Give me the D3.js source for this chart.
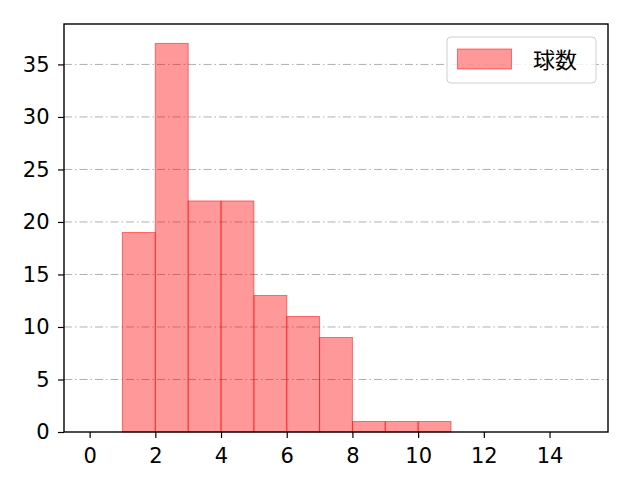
<!DOCTYPE html>
<html>
<head>
<meta charset="utf-8">
<script src="https://cdn.jsdelivr.net/npm/d3@7"></script>
<style>
  body { margin: 0; background: #fff; }
  svg text { font-family: "DejaVu Sans", sans-serif; }
</style>
</head>
<body>
<div id="chart"></div>
<script>
// histogram bins (start, end) and counts
const binStarts = [1, 2, 3, 4, 5, 6, 7, 8, 9, 10];
const binEnds = [2, 3, 4, 5, 6, 7, 8, 9, 10, 11];
const counts = [19, 37, 22, 22, 13, 11, 9, 1, 1, 1];
const xTicks = [0, 2, 4, 6, 8, 10, 12, 14];
const yTicks = [0, 5, 10, 15, 20, 25, 30, 35];
const seriesName = "球数";

const width = 640, height = 480;
const margin = { top: 24, right: 32, bottom: 48, left: 64 };

const x = d3.scaleLinear()
  .domain([-0.78, 15.78])
  .range([margin.left, width - margin.right]);

const y = d3.scaleLinear()
  .domain([0, 38.85])
  .range([height - margin.bottom, margin.top]);

const svg = d3.select("#chart").append("svg")
  .attr("width", width)
  .attr("height", height);

// grid
svg.append("g")
  .selectAll("line")
  .data(yTicks.filter(d => d > 0))
  .join("line")
  .attr("x1", margin.left)
  .attr("x2", width - margin.right)
  .attr("y1", d => y(d))
  .attr("y2", d => y(d))
  .attr("stroke", "#b0b0b0")
  .attr("stroke-width", 1)
  .attr("stroke-dasharray", "8,3,1.5,3");

const bins = counts.map((c, i) => ({ x0: binStarts[i], x1: binEnds[i], value: c }));

svg.append("g")
  .selectAll("rect")
  .data(bins)
  .join("rect")
  .attr("x", d => x(d.x0))
  .attr("width", d => x(d.x1) - x(d.x0))
  .attr("y", d => y(d.value))
  .attr("height", d => y(0) - y(d.value))
  .attr("fill", "rgba(255,0,0,0.4)")
  .attr("stroke", "rgba(255,0,0,0.5)")
  .attr("stroke-width", 1);

// axes
const xAxis = svg.append("g")
  .attr("transform", `translate(0,${height - margin.bottom})`)
  .call(d3.axisBottom(x).tickValues(xTicks).tickSize(6).tickPadding(10.5).tickSizeOuter(0));

const yAxis = svg.append("g")
  .attr("transform", `translate(${margin.left},0)`)
  .call(d3.axisLeft(y).tickValues(yTicks).tickSize(6).tickPadding(8.5).tickSizeOuter(0));

[xAxis, yAxis].forEach(g => {
  g.select(".domain").remove();
  g.selectAll(".tick line").attr("stroke", "#000").attr("stroke-width", 1.2);
  g.selectAll(".tick text").attr("font-size", 21).attr("fill", "#000")
    .style("font-family", "\"DejaVu Sans\", sans-serif");
});

// frame
svg.append("rect")
  .attr("x", margin.left)
  .attr("y", margin.top)
  .attr("width", width - margin.left - margin.right)
  .attr("height", height - margin.top - margin.bottom)
  .attr("fill", "none")
  .attr("stroke", "#000")
  .attr("stroke-width", 1.4);

// legend
const legend = svg.append("g")
  .attr("transform", "translate(447,37)");

legend.append("rect")
  .attr("width", 149)
  .attr("height", 46)
  .attr("rx", 4)
  .attr("fill", "rgba(255,255,255,0.8)")
  .attr("stroke", "#d0d0d0");

legend.append("rect")
  .attr("x", 10.5)
  .attr("y", 12)
  .attr("width", 54)
  .attr("height", 20)
  .attr("fill", "rgba(255,0,0,0.4)")
  .attr("stroke", "rgba(255,0,0,0.5)");

legend.append("text")
  .attr("x", 86)
  .attr("y", 31)
  .attr("font-size", 22)
  .style("font-family", "\"Noto Sans CJK JP\", sans-serif")
  .text(seriesName);
</script>
</body>
</html>
